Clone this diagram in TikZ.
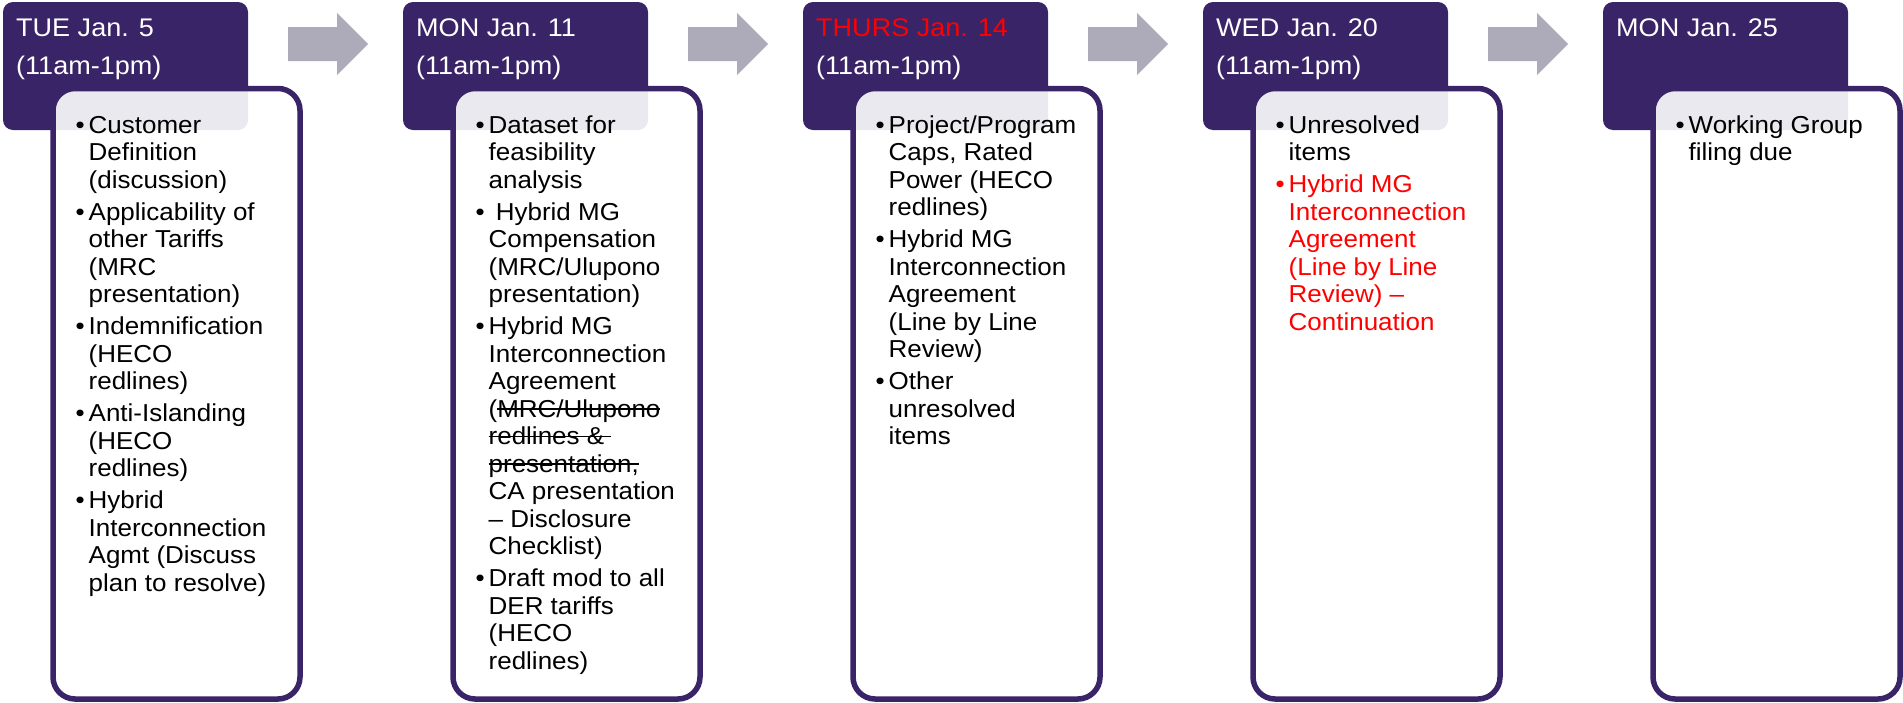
\documentclass[tikz,border=0pt]{standalone}
\usepackage{fontspec}
\setmainfont{Liberation Sans}[FakeStretch=1.06]
\definecolor{slidepurple}{RGB}{58,36,104}
\definecolor{arrowgray}{RGB}{173,171,185}
\definecolor{hdred}{RGB}{255,0,0}
\newsavebox{\strkbox}
\newcommand{\strk}[1]{\sbox{\strkbox}{#1}\rlap{\rule[0.3em]{\wd\strkbox}{1.5pt}}\usebox{\strkbox}}
\newcommand{\bul}{\makebox[13pt][l]{\textbullet}}
\newcommand{\ind}{\hspace*{13pt}}
\newcommand{\gap}{\\[4.5pt]}
\newcommand{\rd}{\color{hdred}}
\newenvironment{lines}{\begin{tabular}[t]{@{}l@{}}}{\end{tabular}}
\begin{document}
\begin{tikzpicture}[x=1pt, y=-1pt,
    hdr/.style={fill=slidepurple, rounded corners=10pt, inner sep=0pt,
                minimum width=245pt, minimum height=128pt},
    card/.style={draw=slidepurple, line width=5.5pt, fill=white, fill opacity=0.9,
                 rounded corners=22pt, inner sep=0pt,
                 minimum width=247pt, minimum height=610.5pt},
    blockarr/.style={fill=arrowgray},
    hdrtxt/.style={anchor=base west, inner sep=0pt, text=white,
                   font=\fontsize{25.5}{38}\selectfont},
    itemtxt/.style={anchor=base west, inner sep=0pt,
                    font=\fontsize{24.5}{27.5}\selectfont}
  ]
    \useasboundingbox (0,0) rectangle (1903,702);

    \foreach \i in {0,...,4}
      \node[hdr] (hdr\i) at (125.5+400*\i,66) {};
    \foreach \i in {0,...,3}
      \fill[blockarr, shift={(400*\i,0)}] (288,27) -- (337,27) -- (337,13) -- (368,44)
        -- (337,75) -- (337,61) -- (288,61) -- cycle;
    \foreach \i in {0,...,4}
      \node[card] (card\i) at (176.5+400*\i,393.75) {};

    \node[hdrtxt] (date0) at (16,36)   {\begin{lines}TUE Jan. 5\\(11am-1pm)\end{lines}};
    \node[hdrtxt] (date1) at (416,36)  {\begin{lines}MON Jan. 11\\(11am-1pm)\end{lines}};
    \node[hdrtxt] (date2) at (816,36)  {\begin{lines}\rd THURS Jan. 14\\(11am-1pm)\end{lines}};
    \node[hdrtxt] (date3) at (1216,36) {\begin{lines}WED Jan. 20\\(11am-1pm)\end{lines}};
    \node[hdrtxt] (date4) at (1616,36) {\begin{lines}MON Jan. 25\end{lines}};

    \node[itemtxt] (list0) at (75.5,133) {\begin{lines}\bul Customer\\\ind Definition\\\ind (discussion)\gap
      \bul Applicability of\\\ind other Tariffs\\\ind (MRC\\\ind presentation)\gap
      \bul Indemnification\\\ind (HECO\\\ind redlines)\gap
      \bul Anti-Islanding\\\ind (HECO\\\ind redlines)\gap
      \bul Hybrid\\\ind Interconnection\\\ind Agmt (Discuss\\\ind plan to resolve)\end{lines}};
    \node[itemtxt] (list1) at (475.5,133) {\begin{lines}\bul Dataset for\\\ind feasibility\\\ind analysis\gap
      \bul\ Hybrid MG\\\ind Compensation\\\ind (MRC/Ulupono\\\ind presentation)\gap
      \bul Hybrid MG\\\ind Interconnection\\\ind Agreement\\\ind (\strk{MRC/Ulupono}\\\ind \strk{redlines \&\ }\\\ind \strk{presentation,}\\\ind CA presentation\\\ind – Disclosure\\\ind Checklist)\gap
      \bul Draft mod to all\\\ind DER tariffs\\\ind (HECO\\\ind redlines)\end{lines}};
    \node[itemtxt] (list2) at (875.5,133) {\begin{lines}\bul Project/Program\\\ind Caps, Rated\\\ind Power (HECO\\\ind redlines)\gap
      \bul Hybrid MG\\\ind Interconnection\\\ind Agreement\\\ind (Line by Line\\\ind Review)\gap
      \bul Other\\\ind unresolved\\\ind items\end{lines}};
    \node[itemtxt] (list3) at (1275.5,133) {\begin{lines}\bul Unresolved\\\ind items\gap
      \rd\bul Hybrid MG\\\rd\ind Interconnection\\\rd\ind Agreement\\\rd\ind (Line by Line\\\rd\ind Review) –\\\rd\ind Continuation\end{lines}};
    \node[itemtxt] (list4) at (1675.5,133) {\begin{lines}\bul Working Group\\\ind filing due\end{lines}};
  \end{tikzpicture}
\end{document}
